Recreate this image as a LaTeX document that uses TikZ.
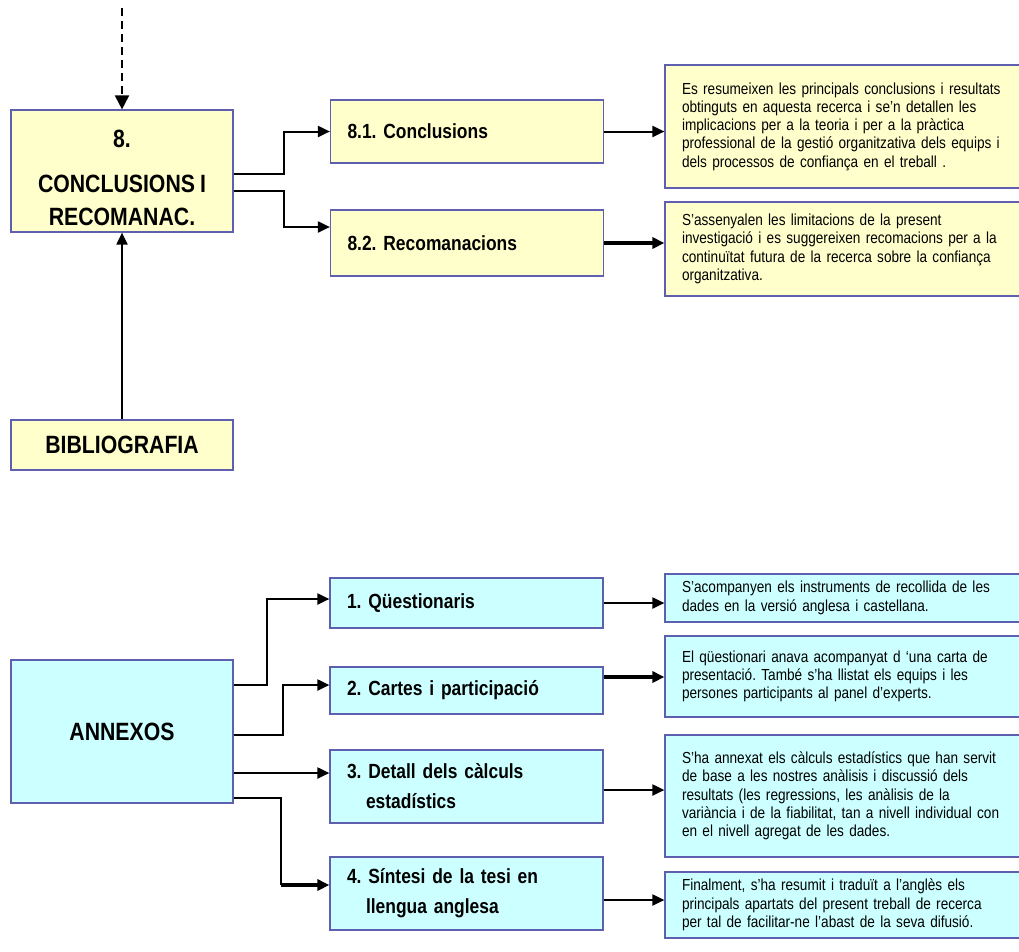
\documentclass[tikz,border=0pt]{standalone}
\usepackage{fontspec}
\setmainfont{Liberation Sans}[FakeStretch=0.85,WordSpace=0.85]
\usetikzlibrary{arrows.meta,calc}
\definecolor{ylw}{HTML}{FFFFCC}
\definecolor{cyn}{HTML}{CCFFFF}
\definecolor{edge}{HTML}{5F5FB0}
\frenchspacing

\begin{document}
\begin{tikzpicture}[x=1pt,y=-1pt,
  frame/.style={draw=edge,line width=1.2pt,inner sep=0pt},
  dim/.style n args={2}{minimum width=#1pt,minimum height=#2pt},
  ytile/.style={frame,fill=ylw},
  ctile/.style={frame,fill=cyn},
  head/.style={font=\fontsize{25}{33}\selectfont\bfseries,align=center},
  lbl/.style={font=\fontsize{20.5}{30}\selectfont\bfseries,align=left,text width=239pt,inner xsep=17pt},
  note/.style={font=\fontsize{16}{18.3}\selectfont,align=left,text width=323pt,inner xsep=17pt},
  link/.style={line width=2pt,-{Triangle[length=12pt,width=11pt]}},
  heavy/.style={line width=4pt,-{Triangle[length=12pt,width=11pt]}}
]
\useasboundingbox (0,0) rectangle (1019,951);

% --- chapter 8 block ---
\node[ytile,dim={222}{122}] (n8) at (122,171) {};
\node[head] (n8t) at (122,178) {8.\\[12pt]CONCLUSIONS I\\RECOMANAC.};
\node[ytile,lbl,dim={273}{63}] (n81) at (467,131.5) {8.1. Conclusions};
\node[ytile,lbl,dim={273}{66}] (n82) at (467,243) {8.2. Recomanacions};
\node[ytile,note,dim={357}{123}] (t1) at (843.5,126.5) {Es resumeixen les principals conclusions i resultats\\obtinguts en aquesta recerca i se’n detallen les\\implicacions per a la teoria i per a la pràctica\\professional de la gestió organitzativa dels equips i\\dels processos de confiança en el treball .};
\node[ytile,note,dim={357}{94}] (t2) at (843.5,249) {S’assenyalen les limitacions de la present\\investigació i es suggereixen recomacions per a la\\continuïtat futura de la recerca sobre la confiança\\organitzativa.};
\node[ytile,head,dim={222}{50}] (bib) at (122,445) {BIBLIOGRAFIA};

\coordinate (prev) at (122,8);
\draw[line width=2pt,dash pattern=on 8pt off 5pt,-{Triangle[length=14pt,width=14pt]}] (prev) -- (n8.north);
\draw[link] (bib.north) -- (n8.south);
\draw[link] ($(n8.east)+(0,3)$) -- ++(50,0) |- (n81.west);
\draw[link] ($(n8.east)+(0,20)$) -- ++(50,0) |- ($(n82.west)+(0,-16)$);
\draw[link] (n81.east) -- (n81.east -| t1.west);
\draw[heavy] (n82.east) -- (n82.east -| t2.west);

% --- annexes block ---
\node[ctile,head,dim={222}{143}] (ann) at (122,731.5) {ANNEXOS};
\node[ctile,lbl,dim={273}{50}] (a1) at (466.5,603) {1. Qüestionaris};
\node[ctile,lbl,dim={273}{47}] (a2) at (466.5,690.5) {2. Cartes i participació};
\node[ctile,lbl,dim={273}{73}] (a3) at (466.5,786.5) {3. Detall dels càlculs\\\hspace*{19pt}estadístics};
\node[ctile,lbl,dim={273}{73}] (a4) at (466.5,893.5) {4. Síntesi de la tesi en\\\hspace*{19pt}llengua anglesa};
\node[ctile,note,dim={357}{48}] (ta1) at (843.5,598) {S’acompanyen els instruments de recollida de les\\dades en la versió anglesa i castellana.};
\node[ctile,note,dim={357}{81}] (ta2) at (843.5,676.5) {El qüestionari anava acompanyat d ‘una carta de\\presentació. També s’ha llistat els equips i les\\persones participants al panel d’experts.};
\node[ctile,note,dim={357}{122}] (ta3) at (843.5,796) {S’ha annexat els càlculs estadístics que han servit\\de base a les nostres anàlisis i discussió dels\\resultats (les regressions, les anàlisis de la\\variància i de la fiabilitat, tan a nivell individual con\\en el nivell agregat de les dades.};
\node[ctile,note,dim={357}{66}] (ta4) at (843.5,905) {Finalment, s’ha resumit i traduït a l’anglès els\\principals apartats del present treball de recerca\\per tal de facilitar-ne l’abast de la seva difusió.};

\draw[link] ($(ann.east)+(0,-46.5)$) -- ++(33,0) |- ($(a1.west)+(0,-4)$);
\draw[link] ($(ann.east)+(0,3.5)$) -- ++(49,0) |- ($(a2.west)+(0,-5.5)$);
\draw[link] ($(ann.east)+(0,41.5)$) -- ($(a3.west)+(0,-13.5)$);
\coordinate (a4in) at ($(a4.west)+(0,-8.5)$);
\coordinate (a4bend) at ($(a4in)+(-48,0)$);
\draw[line width=2pt] ($(ann.east)+(0,66.5)$) -| (a4bend);
\draw[heavy] (a4bend) -- (a4in);

% outgoing arrows towards the description boxes
\coordinate (a2out) at ($(a2.east)+(0,-13.5)$);
\coordinate (a3out) at ($(a3.east)+(0,3.5)$);
\coordinate (a4out) at ($(a4.east)+(0,6.5)$);
\draw[link] (a1.east) -- (a1.east -| ta1.west);
\draw[heavy] (a2out) -- (a2out -| ta2.west);
\draw[link] (a3out) -- (a3out -| ta3.west);
\draw[link] (a4out) -- (a4out -| ta4.west);
\end{tikzpicture}
\end{document}
